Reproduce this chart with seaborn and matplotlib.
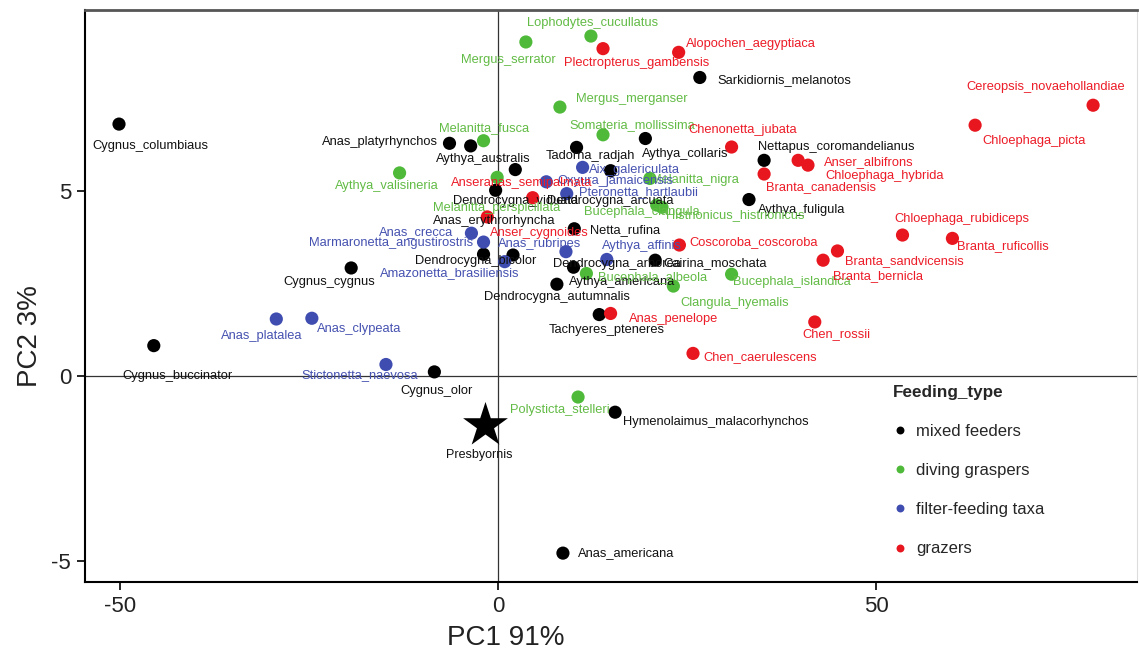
import matplotlib
matplotlib.use("Agg")
import matplotlib.pyplot as plt
import pandas as pd
import seaborn as sns

# PCA scores, one set of lists per feeding type
mixed_names = ["Cygnus_columbiaus", "Anas_platyrhynchos", "Aythya_australis", "Sarkidiornis_melanotos",
               "Tadorna_radjah", "Aythya_collaris", "Nettapus_coromandelianus", "Dendrocygna_viduata",
               "Dendrocygna_arcuata", "Aythya_fuligula", "Anas_erythrorhyncha", "Netta_rufina",
               "Dendrocygna_bicolor", "Dendrocygna_arborea", "Cairina_moschata", "Aythya_americana",
               "Dendrocygna_autumnalis", "Tachyeres_pteneres", "Cygnus_cygnus", "Cygnus_buccinator",
               "Cygnus_olor", "Hymenolaimus_malacorhynchos", "Anas_americana"]
mixed_pc1 = [-50.1, -6.4, -3.6, 26.7, 10.4, 19.5, 35.2, 2.3, 14.9, 33.2, -0.3, 10.1,
             -1.9, 10.0, 20.8, 7.8, 2.0, 13.4, -19.4, -45.5, -8.4, 15.5, 8.6]
mixed_pc2 = [6.80, 6.28, 6.21, 8.06, 6.17, 6.41, 5.82, 5.57, 5.54, 4.76, 5.01, 3.97,
             3.28, 2.93, 3.12, 2.47, 3.26, 1.65, 2.91, 0.81, 0.10, -0.99, -4.80]

diving_names = ["Lophodytes_cucullatus", "Mergus_serrator", "Mergus_merganser", "Melanitta_fusca",
                "Somateria_mollissima", "Aythya_valisineria", "Melanitta_perspicillata", "Melanitta_nigra",
                "Bucephala_clangula", "Histrionicus_histrionicus", "Bucephala_albeola",
                "Bucephala_islandica", "Clangula_hyemalis", "Polysticta_stelleri"]
diving_pc1 = [12.3, 3.7, 8.2, -1.9, 13.9, -13.0, -0.1, 20.1, 21.0, 21.7, 11.7, 30.9, 23.2, 10.6]
diving_pc2 = [9.18, 9.02, 7.26, 6.35, 6.51, 5.48, 5.36, 5.33, 4.61, 4.55, 2.76, 2.74, 2.42, -0.58]

filter_names = ["Aix_galericulata", "Oxyura_jamaicensis", "Pteronetta_hartlaubii", "Anas_crecca",
                "Marmaronetta_angustirostris", "Amazonetta_brasiliensis", "Anas_rubripes",
                "Aythya_affinis", "Anas_platalea", "Anas_clypeata", "Stictonetta_naevosa"]
filter_pc1 = [11.2, 6.4, 9.1, -3.5, -1.9, 0.9, 9.0, 14.4, -29.3, -24.6, -14.8]
filter_pc2 = [5.63, 5.24, 4.92, 3.85, 3.61, 3.08, 3.35, 3.14, 1.53, 1.55, 0.30]

grazer_names = ["Alopochen_aegyptiaca", "Plectropterus_gambensis", "Cereopsis_novaehollandiae",
                "Chloephaga_picta", "Chenonetta_jubata", "Anser_albifrons", "Chloephaga_hybrida",
                "Branta_canadensis", "Anseranas_semipalmata", "Anser_cygnoides", "Chloephaga_rubidiceps",
                "Branta_ruficollis", "Coscoroba_coscoroba", "Branta_sandvicensis", "Branta_bernicla",
                "Anas_penelope", "Chen_rossii", "Chen_caerulescens"]
grazer_pc1 = [23.9, 13.9, 78.7, 63.1, 30.9, 39.7, 41.0, 35.2, 4.6, -1.4, 53.5, 60.1,
              24.0, 44.9, 43.0, 14.9, 41.9, 25.8]
grazer_pc2 = [8.74, 8.84, 7.31, 6.77, 6.18, 5.82, 5.69, 5.45, 4.81, 4.29, 3.80, 3.71,
              3.53, 3.37, 3.12, 1.68, 1.45, 0.60]

fossil_name = "Presbyornis"
fossil_pc1 = -1.7
fossil_pc2 = -1.34

feeding_types = ["mixed feeders", "diving graspers", "filter-feeding taxa", "grazers"]

# where each repelled label sits relative to its point (pixels, y up)
label_offset = {
    "Cygnus_columbiaus": (31, -22), "Anas_platyrhynchos": (-70, 1), "Aythya_australis": (13, -13),
    "Sarkidiornis_melanotos": (85, -3), "Tadorna_radjah": (14, -9), "Aythya_collaris": (40, -15),
    "Nettapus_coromandelianus": (72, 13), "Dendrocygna_viduata": (0, -31), "Dendrocygna_arcuata": (0, -30),
    "Aythya_fuligula": (53, -10), "Anas_erythrorhyncha": (-1, -31), "Netta_rufina": (51, -1),
    "Dendrocygna_bicolor": (-8, -7), "Dendrocygna_arborea": (43, 3), "Cairina_moschata": (60, -3),
    "Aythya_americana": (65, 2), "Dendrocygna_autumnalis": (44, -42), "Tachyeres_pteneres": (7, -15),
    "Cygnus_cygnus": (-22, -14), "Cygnus_buccinator": (24, -30), "Cygnus_olor": (2, -19),
    "Hymenolaimus_malacorhynchos": (101, -10), "Anas_americana": (63, 0),
    "Lophodytes_cucullatus": (2, 13), "Mergus_serrator": (-18, -18), "Mergus_merganser": (72, 8),
    "Melanitta_fusca": (1, 13), "Somateria_mollissima": (29, 10), "Aythya_valisineria": (-13, -13),
    "Melanitta_perspicillata": (-1, -31), "Melanitta_nigra": (45, -2), "Bucephala_clangula": (-15, -7),
    "Histrionicus_histrionicus": (73, -8), "Bucephala_albeola": (66, -4), "Bucephala_islandica": (60, -8),
    "Clangula_hyemalis": (61, -17), "Polysticta_stelleri": (-18, -13),
    "Aix_galericulata": (52, -3), "Oxyura_jamaicensis": (69, 1), "Pteronetta_hartlaubii": (72, 2),
    "Anas_crecca": (-55, 1), "Marmaronetta_angustirostris": (-92, -1), "Amazonetta_brasiliensis": (-55, -11),
    "Anas_rubripes": (-26, 8), "Aythya_affinis": (35, 13), "Anas_platalea": (-15, -17),
    "Anas_clypeata": (47, -11), "Stictonetta_naevosa": (-26, -11),
    "Alopochen_aegyptiaca": (72, 8), "Plectropterus_gambensis": (34, -14),
    "Cereopsis_novaehollandiae": (-47, 18), "Chloephaga_picta": (59, -16), "Chenonetta_jubata": (11, 17),
    "Anser_albifrons": (71, -2), "Chloephaga_hybrida": (77, -11), "Branta_canadensis": (57, -13),
    "Anseranas_semipalmata": (-11, 15), "Anser_cygnoides": (52, -16), "Chloephaga_rubidiceps": (59, 16),
    "Branta_ruficollis": (50, -8), "Coscoroba_coscoroba": (74, 3), "Branta_sandvicensis": (67, -10),
    "Branta_bernicla": (55, -16), "Anas_penelope": (63, -6), "Chen_rossii": (22, -12),
    "Chen_caerulescens": (67, -4),
}

point_colors = {"mixed feeders": "#000000", "diving graspers": "#4fba3a",
                "filter-feeding taxa": "#3f4cb0", "grazers": "#e8161e"}
text_colors = {"mixed feeders": "#111111", "diving graspers": "#62bb45",
               "filter-feeding taxa": "#4652b0", "grazers": "#ec1c28"}

frames = []
for ft, names, x, y in zip(feeding_types,
                           [mixed_names, diving_names, filter_names, grazer_names],
                           [mixed_pc1, diving_pc1, filter_pc1, grazer_pc1],
                           [mixed_pc2, diving_pc2, filter_pc2, grazer_pc2]):
    frames.append(pd.DataFrame({"species": names, "PC1": x, "PC2": y, "Feeding_type": ft}))
df = pd.concat(frames, ignore_index=True)

sns.set_theme(style="white")
plt.rcParams["font.family"] = ["Liberation Sans", "DejaVu Sans"]
plt.rcParams["axes.unicode_minus"] = False

fig = plt.figure(figsize=(11.39, 6.52), dpi=100)
ax = fig.add_axes([0.0746, 0.1074, 0.9236, 0.877])

ax.axhline(0, color="#333333", lw=0.9, zorder=0)
ax.axvline(0, color="#333333", lw=0.9, zorder=0)

sns.scatterplot(data=df, x="PC1", y="PC2", hue="Feeding_type", hue_order=feeding_types,
                palette=point_colors, s=90, linewidth=0, ax=ax, zorder=3)

for _, row in df.iterrows():
    dx, dy = label_offset[row["species"]]
    ax.annotate(row["species"], (row["PC1"], row["PC2"]), xytext=(dx, dy),
                textcoords="offset pixels", ha="center", va="center",
                fontsize=9.3, color=text_colors[row["Feeding_type"]], zorder=4)

sns.scatterplot(x=[fossil_pc1], y=[fossil_pc2], marker="*", s=1150, color="black",
                linewidth=0, ax=ax, legend=False, zorder=5)
ax.annotate(fossil_name, (fossil_pc1, fossil_pc2), xytext=(-6, -30), textcoords="offset pixels",
            ha="center", va="center", fontsize=9, color="#111111")

ax.set_xlim(-54.6, 84.5)
ax.set_ylim(-5.58, 9.88)
ax.set_xticks([-50, 0, 50])
ax.set_yticks([-5, 0, 5])
ax.tick_params(bottom=True, left=True, direction="out", length=6, width=1.2,
               color="black", labelsize=16, labelcolor="#222222", pad=4)
ax.set_xlabel("PC1 91%", fontsize=20, color="#222222")
ax.set_ylabel("PC2 3%", fontsize=20, color="#222222")
ax.xaxis.set_label_coords(0.40, -0.075)
ax.yaxis.set_label_coords(-0.040, 0.43)

for side in ["left", "bottom"]:
    ax.spines[side].set_color("black")
    ax.spines[side].set_linewidth(1.5)
ax.spines["top"].set_color("#555555")
ax.spines["top"].set_linewidth(2)
ax.spines["right"].set_color("#dddddd")
ax.spines["right"].set_linewidth(0.8)

handles, labels = ax.get_legend_handles_labels()
leg = ax.legend(handles, labels, title="Feeding_type", loc="upper left",
                bbox_to_anchor=(0.768, 0.345), frameon=False, markerscale=0.6,
                fontsize=12, title_fontproperties={"weight": "bold", "size": 12.3},
                labelspacing=1.45, handletextpad=0.6, handlelength=0.8,
                borderaxespad=0, borderpad=0, alignment="left")

fig.savefig("out.png", dpi=100)
